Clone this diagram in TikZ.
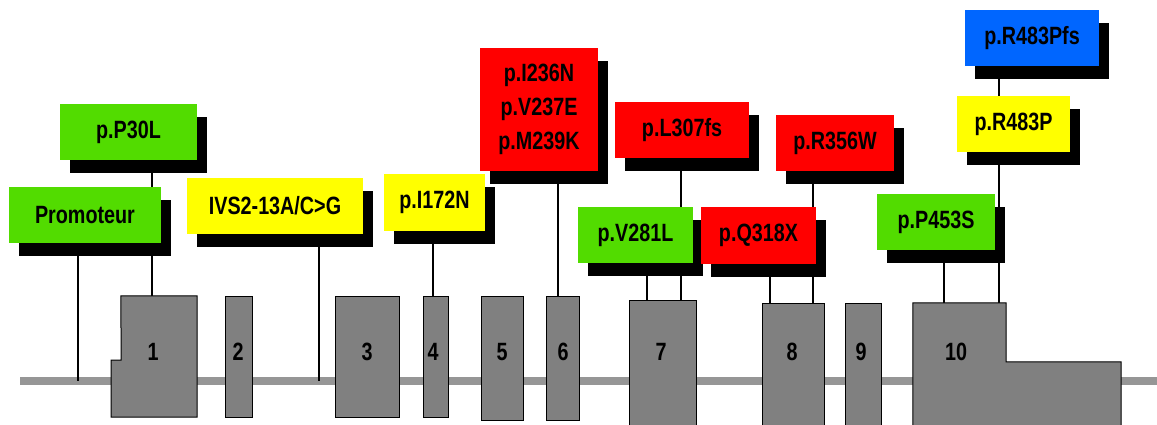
\documentclass[tikz,border=0pt]{standalone}
\usepackage{fontspec}
\setmainfont{Liberation Sans}[FakeStretch=0.79]
\usetikzlibrary{calc, shadows, backgrounds}

\definecolor{mgreen}{RGB}{82,220,0}
\definecolor{myellow}{RGB}{255,255,0}
\definecolor{mred}{RGB}{255,0,0}
\definecolor{mblue}{RGB}{0,102,255}
\definecolor{exgray}{RGB}{128,128,128}
\definecolor{linegray}{RGB}{150,150,150}

\tikzset{
  mut/.style={minimum height=56pt, inner sep=0pt, align=center,
    font=\fontsize{25}{34}\selectfont\bfseries,
    drop shadow={shadow xshift=10pt, shadow yshift=-13pt, fill=black, opacity=1}},
  exon/.style={fill=exgray, draw=black, line width=1pt, inner sep=0pt},
  exnum/.style={font=\fontsize{25}{25}\selectfont\bfseries},
  stem/.style={draw=black, line width=1.8pt},
  backbone/.style={draw=linegray, line width=8pt}
}

\begin{document}
\begin{tikzpicture}[x=1pt, y=-1pt]
  \useasboundingbox (0, 0) rectangle (1157, 424);
% exons
  \foreach \n/\xa/\xb/\ya/\yb in {2/225/252/296/417, 3/335/399/296/417, 4/423/448/296/417,
    5/481/523/296/420, 6/546/579/296/420, 7/629/696/300/432, 8/762/824/303/432, 9/845/881/303/432}{
    \draw ({(\xa+\xb)/2}, {(\ya+\yb)/2}) node[exon, minimum width={(\xb-\xa)*1pt}, minimum height={(\yb-\ya)*1pt}] (ex\n) {};
  }
  \path (159, 356.5) node[minimum width=76pt, minimum height=121pt, inner sep=0pt] (ex1) {};
  \draw[exon] (ex1.north west) -- (ex1.north east) -- (ex1.south east) -- ++(-86, 0) -- ++(0, -57) -- ++(10, 0) -- cycle;
  \path (959.5, 367.5) node[minimum width=93pt, minimum height=129pt, inner sep=0pt] (ex10) {};
  \draw[exon] (ex10.north west) -- (ex10.north east) -- ++(0, 59) -- ++(115, 0) -- ++(0, 70) -- (ex10.south west) -- cycle;

  \foreach \n/\x in {1/153, 2/238, 3/367, 4/433, 5/502, 6/563, 7/661, 8/792, 9/861, 10/956}{
    \draw (\x, 352) node[exnum] (num\n) {\n};
  }

% mutations
  \draw (85, 215) node[mut, fill=mgreen, minimum width=152pt] (promo) {Promoteur};
  \draw (128.5, 132) node[mut, fill=mgreen, minimum width=137pt] (p30l) {p.P30L};
  \draw (275, 206) node[mut, fill=myellow, minimum width=176pt] (ivs) {IVS2-13A/C>G};
  \draw (434.5, 202.5) node[mut, fill=myellow, minimum width=101pt, minimum height=57pt] (i172n) {p.I172N};
  \draw (539, 109.5) node[mut, fill=mred, minimum width=118pt, minimum height=123pt] (i236n) {p.I236N\\p.V237E\\p.M239K};
  \draw (682, 130) node[mut, fill=mred, minimum width=134pt] (l307fs) {p.L307fs};
  \draw (635.5, 235) node[mut, fill=mgreen, minimum width=115pt] (v281l) {p.V281L};
  \draw (758.5, 235.5) node[mut, fill=mred, minimum width=115pt, minimum height=57pt] (q318x) {p.Q318X};
  \draw (835, 143) node[mut, fill=mred, minimum width=118pt] (r356w) {p.R356W};
  \draw (936, 222) node[mut, fill=mgreen, minimum width=118pt] (p453s) {p.P453S};
  \draw (1013.5, 124) node[mut, fill=myellow, minimum width=113pt] (r483p) {p.R483P};
  \draw (1032, 38) node[mut, fill=mblue, minimum width=134pt] (r483pfs) {p.R483Pfs};

% gene line and stems
  \begin{scope}[on background layer]
    \coordinate (gstart) at (20, 381);
    \coordinate (gend) at (1157, 381);
    \draw[backbone] (gstart) -- (gend);

    \coordinate (cpromo) at (78, 381);
    \coordinate (civs) at (319, 381);
    \draw[stem] (promo.south -| cpromo) -- (cpromo);
    \draw[stem] (ivs.south -| civs) -- (civs);

    \coordinate (c1) at ([xshift=-7pt]ex1.north);
    \coordinate (c4) at ([xshift=-2.5pt]ex4.north);
    \coordinate (c6) at ([xshift=-4.5pt]ex6.north);
    \coordinate (c7a) at ([xshift=-15.5pt]ex7.north);
    \coordinate (c7b) at ([xshift=18.5pt]ex7.north);
    \coordinate (c8a) at ([xshift=-23pt]ex8.north);
    \coordinate (c8b) at ([xshift=20pt]ex8.north);
    \coordinate (c10a) at ([xshift=-15.5pt]ex10.north);
    \coordinate (c10b) at ([xshift=39.5pt]ex10.north);
    \draw[stem] (p30l.south -| c1) -- (c1);
    \draw[stem] (i172n.south -| c4) -- (c4);
    \draw[stem] (i236n.south -| c6) -- (c6);
    \draw[stem] (v281l.south -| c7a) -- (c7a);
    \draw[stem] (l307fs.south -| c7b) -- (c7b);
    \draw[stem] (q318x.south -| c8a) -- (c8a);
    \draw[stem] (r356w.south -| c8b) -- (c8b);
    \draw[stem] (p453s.south -| c10a) -- (c10a);
    \draw[stem] (r483p.south -| c10b) -- (c10b);
    \draw[stem] (r483pfs.south -| c10b) -- (r483p.north -| c10b);
  \end{scope}
\end{tikzpicture}
\end{document}
